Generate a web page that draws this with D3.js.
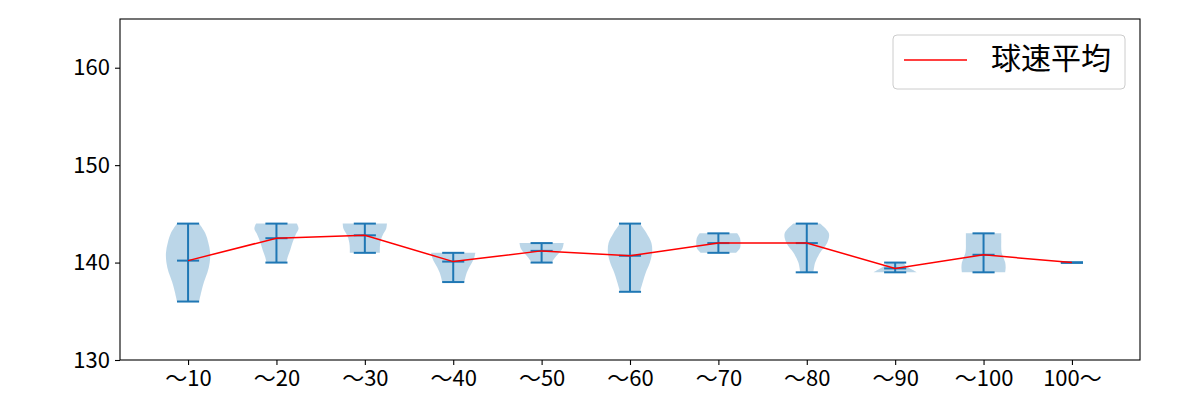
<!DOCTYPE html>
<html>
<head>
<meta charset="utf-8">
<script src="https://cdn.jsdelivr.net/npm/d3@7"></script>
<style>
  html, body { margin: 0; padding: 0; background: #fff; }
  svg { display: block; }
  text { font-family: "Noto Sans CJK JP", "Noto Sans", sans-serif; }
</style>
</head>
<body>
<svg id="chart" width="1200" height="400"></svg>
<script>
// ---- data ----
const categories = ["〜10", "〜20", "〜30", "〜40", "〜50", "〜60", "〜70", "〜80", "〜90", "〜100", "100〜"];
const means = [140.2, 142.5, 142.8, 140.1, 141.2, 140.7, 142.0, 142.0, 139.4, 140.8, 140.0];
const mins  = [136, 140, 141, 138, 140, 137, 141, 139, 139, 139, 140];
const maxs  = [144, 144, 144, 141, 142, 144, 143, 144, 140, 143, 140];
// relative violin widths (density), evenly spaced from min to max
const densities = [
  [0.5, 0.6, 0.72, 0.88, 0.98, 1.0, 0.92, 0.78, 0.5],
  [0.45, 0.5, 0.58, 0.65, 0.72, 0.8, 0.9, 1.0, 0.92],
  [0.68, 0.68, 0.7, 0.75, 0.85, 0.97, 1.0],
  [0.5, 0.55, 0.62, 0.72, 0.85, 0.95, 1.0],
  [0.45, 0.6, 0.8, 0.95, 1.0],
  [0.45, 0.58, 0.72, 0.9, 1.0, 0.97, 0.75, 0.45],
  [0.8, 0.98, 1.0, 0.98, 0.85],
  [0.3, 0.38, 0.6, 0.92, 1.0, 0.6],
  [1.0, 0.8, 0.6, 0.45, 0.38],
  [0.98, 1.0, 0.98, 0.9, 0.82, 0.8, 0.8, 0.8, 0.8],
  []
];
const yTicks = [130, 140, 150, 160];
const legendLabel = "球速平均";

// ---- layout ----
const margin = {left: 120, right: 60, top: 19, bottom: 40};
const W = 1200, H = 400;
const svg = d3.select("#chart");
const x = d3.scaleLinear().domain([0.23, 11.77]).range([margin.left, W - margin.right]);
const y = d3.scaleLinear().domain([130, 165]).range([H - margin.bottom, margin.top]);
const blue = "#1f77b4";
const pos = categories.map((c, i) => i + 1);

// bodies
const area = d3.area()
  .y(p => y(p.v))
  .x0(p => x(p.pos - 0.25 * p.d))
  .x1(p => x(p.pos + 0.25 * p.d))
  .curve(d3.curveCatmullRom);

densities.forEach((dens, i) => {
  if (dens.length < 2) return;
  const n = dens.length;
  const pts = dens.map((d, j) => ({pos: pos[i], d, v: mins[i] + (maxs[i] - mins[i]) * j / (n - 1)}));
  svg.append("path").attr("d", area(pts))
    .attr("fill", blue).attr("fill-opacity", 0.3).attr("stroke", "none");
});

// vertical bars and caps
const g = svg.append("g").attr("stroke", blue).attr("stroke-width", 2);
pos.forEach((p, i) => {
  g.append("line").attr("x1", x(p)).attr("x2", x(p)).attr("y1", y(mins[i])).attr("y2", y(maxs[i]));
  [mins[i], maxs[i], means[i]].forEach(v => {
    g.append("line").attr("x1", x(p - 0.125)).attr("x2", x(p + 0.125)).attr("y1", y(v)).attr("y2", y(v));
  });
});

// mean line
const line = d3.line().x((d, i) => x(pos[i])).y(d => y(d));
svg.append("path").attr("d", line(means)).attr("fill", "none").attr("stroke", "red").attr("stroke-width", 1.5);

// axes
const yAxis = d3.axisLeft(y).tickValues(yTicks).tickSize(5).tickPadding(5);
const xAxis = d3.axisBottom(x).tickValues(pos).tickFormat((d, i) => categories[i]).tickSize(5).tickPadding(5);
const ya = svg.append("g").attr("transform", `translate(${margin.left},0)`).call(yAxis);
const xa = svg.append("g").attr("transform", `translate(0,${H - margin.bottom})`).call(xAxis);
[ya, xa].forEach(a => {
  a.select(".domain").remove();
  a.selectAll("line").attr("stroke", "#000").attr("stroke-width", 1.1);
  a.selectAll("text").attr("fill", "#000").style("font-size", "22px");
});

// frame
svg.append("rect").attr("x", margin.left).attr("y", margin.top)
  .attr("width", W - margin.left - margin.right).attr("height", H - margin.top - margin.bottom)
  .attr("fill", "none").attr("stroke", "#000").attr("stroke-width", 1.1);

// legend
const lg = svg.append("g");
lg.append("rect").attr("x", 893).attr("y", 35).attr("width", 232).attr("height", 54).attr("rx", 4)
  .attr("fill", "#fff").attr("fill-opacity", 0.8).attr("stroke", "#cccccc").attr("stroke-width", 1);
lg.append("line").attr("x1", 904).attr("x2", 967).attr("y1", 60).attr("y2", 60)
  .attr("stroke", "red").attr("stroke-width", 1.5);
lg.append("text").attr("x", 991).attr("y", 61).attr("dominant-baseline", "middle")
  .style("font-size", "30px").attr("fill", "#000").text(legendLabel);
</script>
</body>
</html>
